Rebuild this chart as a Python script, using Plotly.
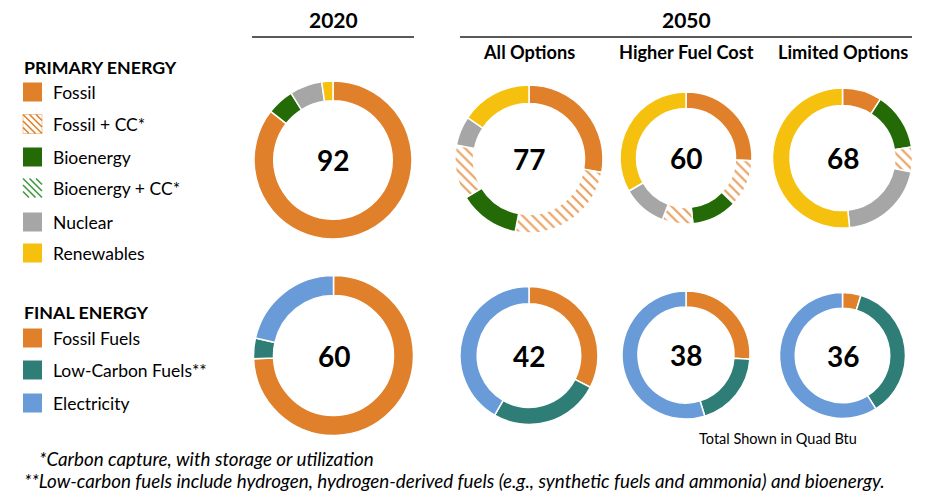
import plotly.graph_objects as go

# ---------------- DATA ----------------
primary_categories = ["Fossil", "Fossil + CC*", "Bioenergy", "Bioenergy + CC*", "Nuclear", "Renewables"]
primary_2020 = [78.7, 0, 5.1, 0, 6.1, 2.1]
primary_2050_all = [21.5, 19.3, 10.2, 9.1, 4.9, 12.0]
primary_2050_higher = [15.4, 6.9, 6.7, 4.5, 6.5, 20.0]
primary_2050_limited = [6.2, 0, 9.1, 3.9, 13.7, 35.1]

final_categories = ["Fossil Fuels", "Low-Carbon Fuels**", "Electricity"]
final_2020 = [44.6, 2.5, 12.9]
final_2050_all = [13.7, 10.8, 17.5]
final_2050_higher = [9.9, 7.3, 20.8]
final_2050_limited = [1.7, 13.1, 21.2]

scenario_labels = ["All Options", "Higher Fuel Cost", "Limited Options"]
year_labels = ["2020", "2050"]

# ---------------- STYLE ----------------
W, H = 936, 500
FONT = "Lato"
ORANGE = "#E0802A"
HATCH = "#E9A262"
GREEN = "#246B08"
GRAY = "#A6A6A6"
YELLOW = "#F5C10E"
TEAL = "#2E7E77"
BLUE = "#6A9BD9"

primary_style = {
    "Fossil": (ORANGE, ""),
    "Fossil + CC*": (HATCH, "\\"),
    "Bioenergy": (GREEN, ""),
    "Bioenergy + CC*": (HATCH, "\\"),
    "Nuclear": (GRAY, ""),
    "Renewables": (YELLOW, ""),
}
final_style = {
    "Fossil Fuels": (ORANGE, ""),
    "Low-Carbon Fuels**": (TEAL, ""),
    "Electricity": (BLUE, ""),
}

# pie geometry (pixel centre x, centre y, radius)
geom_primary = [(333, 160, 79), (529, 159, 74), (686, 158, 66), (842.5, 158, 70)]
geom_final = [(333.5, 355.5, 80), (529, 355.5, 69), (686, 355, 64), (842.5, 355.5, 63)]

fig = go.Figure()
ann = []
shapes = []


def text(x, y, s, size, bold=False, italic=False, anchor="left", color="black"):
    if bold:
        s = f"<b>{s}</b>"
    if italic:
        s = f"<i>{s}</i>"
    ann.append(dict(x=x, y=y, xref="x", yref="y", text=s, showarrow=False, xanchor=anchor,
                    yanchor="middle", font=dict(family=FONT, size=size, color=color)))


def add_pie(cats, vals, style, g):
    cx, cy, r = g
    labels, values, colors, pshapes = [], [], [], []
    for c, v in zip(cats, vals):
        if v > 0:
            labels.append(c)
            values.append(v)
            colors.append(style[c][0])
            pshapes.append(style[c][1])
    fig.add_trace(go.Pie(
        labels=labels, values=values, sort=False, direction="clockwise", rotation=0,
        hole=0.75, textinfo="none", hoverinfo="label+value", showlegend=False,
        marker=dict(colors=colors, line=dict(color="white", width=1.5),
                    pattern=dict(shape=pshapes, fgcolor=colors, bgcolor="white",
                                 size=7, solidity=0.3, fillmode="replace")),
        domain=dict(x=[(cx - r) / W, (cx + r) / W], y=[1 - (cy + r) / H, 1 - (cy - r) / H]),
    ))
    text(cx, cy, f"{sum(vals):.0f}", 28, bold=True, anchor="center")


for vals, g in zip([primary_2020, primary_2050_all, primary_2050_higher, primary_2050_limited], geom_primary):
    add_pie(primary_categories, vals, primary_style, g)
for vals, g in zip([final_2020, final_2050_all, final_2050_higher, final_2050_limited], geom_final):
    add_pie(final_categories, vals, final_style, g)

# invisible pixel-space axes for annotations/shapes
fig.add_trace(go.Scatter(x=[0, W], y=[0, H], mode="markers", marker=dict(opacity=0),
                         hoverinfo="skip", showlegend=False))

# headers
text(333, 19, year_labels[0], 21, bold=True, anchor="center")
text(686, 19, year_labels[1], 21, bold=True, anchor="center")
shapes.append(dict(type="line", x0=252, x1=414, y0=37, y1=37, xref="x", yref="y",
                   line=dict(color="#222", width=1.5)))
shapes.append(dict(type="line", x0=460, x1=912, y0=37, y1=37, xref="x", yref="y",
                   line=dict(color="#222", width=1.5)))
for lab, g in zip(scenario_labels, geom_primary[1:]):
    text(g[0], 52, lab, 18.2, bold=True, anchor="center")

# legends
SW = 19


def swatch(y, color, hatch=False, border=None):
    x0, x1, y0, y1 = 23, 23 + SW, y - SW / 2, y + SW / 2
    if not hatch:
        shapes.append(dict(type="rect", x0=x0, x1=x1, y0=y0, y1=y1, xref="x", yref="y",
                           fillcolor=color, line=dict(width=0)))
    else:
        if border:
            shapes.append(dict(type="rect", x0=x0, x1=x1, y0=y0, y1=y1, xref="x", yref="y",
                               fillcolor="white", line=dict(color=border, width=1)))
        for k in range(-3, 4):
            d = k * 6.5
            xa = max(x0, x0 - d)
            xb = min(x1, x1 - d)
            if xb - xa < 2:
                continue
            shapes.append(dict(type="line", x0=xa, x1=xb, y0=y0 + (xa - x0) + d,
                               y1=y0 + (xb - x0) + d, xref="x", yref="y",
                               line=dict(color=color, width=1.6)))


LEG = 17.5
text(22, 67, "PRIMARY ENERGY", 17.8, bold=True)
prim_leg = [(92, ORANGE, False, None), (124, ORANGE, True, "#F2C9A4"), (157, GREEN, False, None),
            (188, "#3E9A3E", True, None), (222, GRAY, False, None), (253, YELLOW, False, None)]
for cat, (y, col, h, b) in zip(primary_categories, prim_leg):
    swatch(y, col, h, b)
    text(51, y, cat, LEG)

text(22, 312, "FINAL ENERGY", 17.8, bold=True)
for cat, (y, col) in zip(final_categories, [(338, ORANGE), (370, TEAL), (403, BLUE)]):
    swatch(y, col)
    text(51, y, cat, LEG)

text(697, 438, "Total Shown in Quad Btu", 14.5)
text(37, 458, "*Carbon capture, with storage or utilization", 18.8, italic=True)
text(22, 480, "**Low-carbon fuels include hydrogen, hydrogen-derived fuels (e.g., synthetic fuels and ammonia) and bioenergy.",
     18.8, italic=True)

fig.update_layout(
    width=W, height=H, margin=dict(l=0, r=0, t=0, b=0),
    paper_bgcolor="white", plot_bgcolor="rgba(0,0,0,0)",
    xaxis=dict(range=[0, W], visible=False, fixedrange=True),
    yaxis=dict(range=[H, 0], visible=False, fixedrange=True),
    annotations=ann, shapes=shapes, showlegend=False,
)

fig.write_html("out.html")
